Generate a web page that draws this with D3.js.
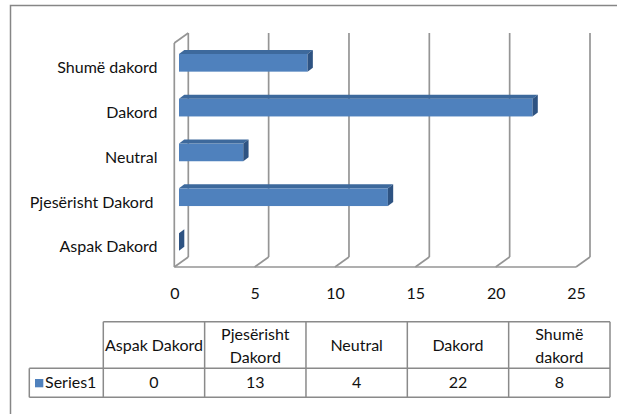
<!DOCTYPE html>
<html>
<head>
<meta charset="utf-8">
<script src="https://cdn.jsdelivr.net/npm/d3@7"></script>
<style>
  html, body { margin: 0; padding: 0; background: #fff; }
  svg { display: block; }
  text { font-family: Lato, "Liberation Sans", sans-serif; font-size: 16px; fill: #111; white-space: pre; }
</style>
</head>
<body>
<svg id="chart" width="617" height="414"></svg>
<script>
// ---- data ----
const categories = ["Aspak Dakord", "Pjesërisht Dakord", "Neutral", "Dakord", "Shumë dakord"];
const axisLabels = ["Aspak Dakord", "Pjesërisht Dakord ", "Neutral", "Dakord", "Shumë dakord"];
const values = [0, 13, 4, 22, 8];
const xTicks = [0, 5, 10, 15, 20, 25];
const headerLines = [["Aspak Dakord"], ["Pjesërisht", "Dakord"], ["Neutral"], ["Dakord"], ["Shumë", "dakord"]];
const seriesName = "Series1";

// ---- layout ----
const svg = d3.select("#chart");
const front = { x0: 174.3, x1: 576, top: 43, bottom: 267 };
const depth = { dx: 14, dy: -10 };
const barDepth = { dx: 5.3, dy: -4 };
const barShift = { dx: 4.7, dy: -2.6 };
const colors = { front: "#4f81bd", top: "#3d699c", side: "#2e5382", grid: "#959595", table: "#8a8a8a" };

const x = d3.scaleLinear().domain([0, 25]).range([front.x0, front.x1]);
const y = d3.scaleBand().domain(categories.slice().reverse())
  .range([front.top, front.bottom]).paddingInner(0.605).paddingOuter(0.3025);

// outer frame (only left/top visible)
svg.append("rect").attr("x", 10.5).attr("y", 5.5).attr("width", 800).attr("height", 600)
  .attr("fill", "none").attr("stroke", "#868686").attr("stroke-width", 1.5);

// ---- 3D walls / grid ----
const grid = svg.append("g").attr("stroke", colors.grid).attr("stroke-width", 1.7).attr("fill", "none");
xTicks.forEach(t => {
  const fx = x(t);
  grid.append("line").attr("x1", fx + depth.dx).attr("x2", fx + depth.dx)
    .attr("y1", front.top + depth.dy).attr("y2", front.bottom + depth.dy);
  grid.append("line").attr("x1", fx).attr("y1", front.bottom)
    .attr("x2", fx + depth.dx).attr("y2", front.bottom + depth.dy);
});
grid.append("line").attr("x1", front.x0).attr("x2", front.x1).attr("y1", front.bottom).attr("y2", front.bottom);
grid.append("line").attr("x1", front.x0).attr("x2", front.x0).attr("y1", front.top).attr("y2", front.bottom);
grid.append("line").attr("x1", front.x0).attr("y1", front.top)
  .attr("x2", front.x0 + depth.dx).attr("y2", front.top + depth.dy);

// ---- bars ----
const bars = svg.append("g");
categories.forEach((c, i) => {
  const v = values[i];
  const fx0 = x(0) + barShift.dx, fx1 = x(v) + barShift.dx;
  const fy0 = y(c) + barShift.dy, fy1 = fy0 + y.bandwidth();
  const g = bars.append("g");
  if (v > 0) {
    g.append("rect").attr("x", fx0).attr("y", fy0).attr("width", fx1 - fx0).attr("height", fy1 - fy0)
      .attr("fill", colors.front);
    g.append("polygon").attr("fill", colors.top).attr("points", [
      [fx0, fy0], [fx1, fy0], [fx1 + barDepth.dx, fy0 + barDepth.dy], [fx0 + barDepth.dx, fy0 + barDepth.dy]
    ].map(p => p.join(",")).join(" "));
  }
  g.append("polygon").attr("fill", colors.side).attr("points", [
    [fx1, fy0], [fx1 + barDepth.dx, fy0 + barDepth.dy], [fx1 + barDepth.dx, fy1 + barDepth.dy], [fx1, fy1]
  ].map(p => p.join(",")).join(" "));
});

// ---- category labels ----
categories.forEach((c, i) => {
  svg.append("text").attr("x", 157.5).attr("y", y(c) + y.bandwidth() / 2 + 7.8)
    .attr("text-anchor", "end").text(axisLabels[i]);
});

// ---- value axis labels ----
const xAxis = svg.append("g").attr("transform", `translate(0,${front.bottom})`)
  .call(d3.axisBottom(x).tickValues(xTicks).tickSize(0).tickPadding(0));
xAxis.select(".domain").remove();
xAxis.selectAll("text").attr("y", 32).attr("dy", null)
  .style("font-family", "Lato, 'Liberation Sans', sans-serif").style("font-size", "16px").attr("fill", "#111");

// ---- data table ----
const tbl = { left: 29.3, colL: 103.3, colR: 610, top: 321.7, mid: 368.3, bottom: 397.3 };
const col = d3.scaleBand().domain(categories).range([tbl.colL, tbl.colR]);
const tg = svg.append("g").attr("stroke", colors.table).attr("stroke-width", 1.5).attr("fill", "none");
tg.append("line").attr("x1", tbl.colL).attr("x2", tbl.colR).attr("y1", tbl.top).attr("y2", tbl.top);
tg.append("line").attr("x1", tbl.left).attr("x2", tbl.colR).attr("y1", tbl.mid).attr("y2", tbl.mid);
tg.append("line").attr("x1", tbl.left).attr("x2", tbl.colR).attr("y1", tbl.bottom).attr("y2", tbl.bottom);
tg.append("line").attr("x1", tbl.left).attr("x2", tbl.left).attr("y1", tbl.mid).attr("y2", tbl.bottom);
categories.forEach(c => {
  tg.append("line").attr("x1", col(c)).attr("x2", col(c)).attr("y1", tbl.top).attr("y2", tbl.bottom);
});
tg.append("line").attr("x1", tbl.colR).attr("x2", tbl.colR).attr("y1", tbl.top).attr("y2", tbl.bottom);

categories.forEach((c, i) => {
  const cx = col(c) + col.bandwidth() / 2;
  const lines = headerLines[i];
  const baseY = lines.length === 1 ? 350.7 : 339.5;
  lines.forEach((ln, j) => {
    svg.append("text").attr("x", cx).attr("y", baseY + j * 23).attr("text-anchor", "middle").text(ln);
  });
  svg.append("text").attr("x", cx).attr("y", 387.5).attr("text-anchor", "middle").text(values[i]);
});
svg.append("rect").attr("x", 35).attr("y", 379).attr("width", 8.3).attr("height", 8.3).attr("fill", colors.front);
svg.append("text").attr("x", 45).attr("y", 387.5).text(seriesName);
</script>
</body>
</html>
